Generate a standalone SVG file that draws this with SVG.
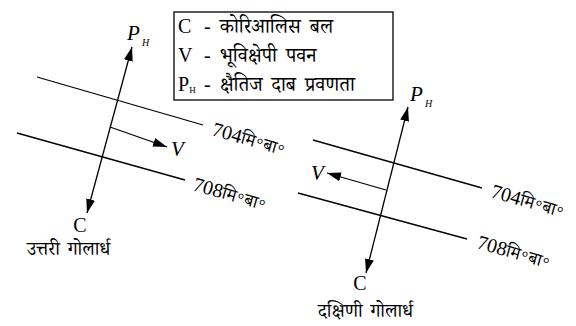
<svg xmlns="http://www.w3.org/2000/svg" width="576" height="326" viewBox="0 0 576 326">
<style>
.ln{stroke:#000;stroke-width:1.3;fill:none}
.ar{stroke:#000;stroke-width:1.3;fill:none;marker-end:url(#ah)}
.dar{stroke:#000;stroke-width:1.3;fill:none;marker-end:url(#ah);marker-start:url(#ah)}
.t{font-family:"Liberation Serif","Noto Serif Devanagari","Noto Sans Devanagari",serif;font-size:20px;fill:#000}
.t tspan{font-size:18px}
.c{font-family:"Liberation Serif",serif;font-size:20px;fill:#000}
.dv{font-family:"Liberation Serif","Noto Serif Devanagari","Noto Sans Devanagari",serif;font-size:20px;word-spacing:4px;fill:#000}
.bl{font-family:"Liberation Serif","Noto Serif Devanagari","Noto Sans Devanagari",serif;font-size:19px;word-spacing:3px;fill:#000}
.it{font-family:"Liberation Serif",serif;font-style:italic;font-size:21px;fill:#000}
.sub{font-family:"Liberation Serif",serif;font-style:italic;font-size:10px;fill:#000}
</style>
<defs>
<marker id="ah" markerUnits="userSpaceOnUse" markerWidth="15" markerHeight="10" refX="14" refY="4.5" orient="auto-start-reverse">
<path d="M0,0 L14,4.5 L0,9 z" fill="#000"/>
</marker>
</defs>
<g id="legend">
<rect x="174" y="12" width="219" height="88" fill="#fff" stroke="#000" stroke-width="1.3"/>
<text class="dv" x="178" y="33">C<tspan x="204">- कोरिआलिस बल</tspan></text>
<text class="dv" x="178" y="62">V<tspan x="204">- भूविक्षेपी पवन</tspan></text>
<text class="dv" x="178" y="91">P<tspan font-size="9" dy="2">H</tspan><tspan x="204" dy="-2">- क्षैतिज दाब प्रवणता</tspan></text>
</g>
<g id="connectors">
<line class="ln" x1="37" y1="77" x2="203" y2="125"/>
<line class="ln" x1="17" y1="133" x2="185" y2="180"/>
<line class="dar" x1="87" y1="213" x2="132" y2="47"/>
<line class="ar" x1="110" y1="127" x2="167" y2="147"/>
<line class="ln" x1="313" y1="140" x2="482" y2="188"/>
<line class="ln" x1="298" y1="193" x2="467" y2="239"/>
<line class="dar" x1="366" y1="273" x2="408" y2="107"/>
<line class="ar" x1="386" y1="190" x2="327" y2="173"/>
</g>
<g id="north">
<text class="it" x="127" y="40">P</text><text class="sub" x="142" y="46">H</text>
<text class="it" x="171" y="156">V</text>
<text class="t" x="211" y="135" transform="rotate(16 211 135)">704<tspan>मि॰बा॰</tspan></text>
<text class="t" x="192" y="190" transform="rotate(16 192 190)">708<tspan>मि॰बा॰</tspan></text>
<text class="c" x="80" y="232" text-anchor="middle">C</text>
<text class="bl" x="27" y="255">उत्तरी गोलार्ध</text>
</g>
<g id="south">
<text class="it" x="410" y="101">P</text><text class="sub" x="425" y="107">H</text>
<text class="it" x="311" y="180">V</text>
<text class="t" x="490" y="197" transform="rotate(16 490 197)">704<tspan>मि॰बा॰</tspan></text>
<text class="t" x="476" y="248" transform="rotate(16 476 248)">708<tspan>मि॰बा॰</tspan></text>
<text class="c" x="360" y="290" text-anchor="middle">C</text>
<text class="bl" x="318" y="317">दक्षिणी गोलार्ध</text>
</g>
</svg>
